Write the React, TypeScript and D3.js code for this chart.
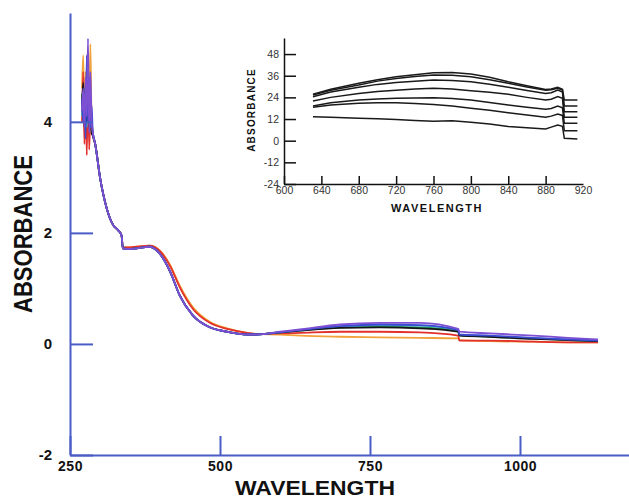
import React, { useEffect, useRef } from "react";
import * as d3 from "d3";

// main spectra: wavelength grid shared by every series
const mainWavelengths = [
  270, 272, 274, 276, 278, 280, 282, 284, 286, 288, 292, 300, 311, 322, 330, 336, 338, 350, 383, 400,
  417, 433, 455, 483, 512, 545, 561, 600, 633, 700, 766, 833, 897, 899, 950, 1022, 1080, 1130,
];

const orangeSeries = [
  4.6, 5.2, 4.0, 4.9, 4.2, 5.0, 4.1, 5.4, 4.0, 3.8, 3.6, 3.0, 2.45, 2.14, 2.05, 1.95, 1.74, 1.74, 1.77, 1.68,
  1.42, 1.05, 0.66, 0.4, 0.28, 0.2, 0.18, 0.17, 0.15, 0.13, 0.12, 0.11, 0.1, 0.07, 0.05, 0.04, 0.03, 0.03,
];
const redSeries = [
  4.0, 4.9, 3.6, 4.5, 3.4, 4.8, 3.5, 4.2, 3.9, 3.75, 3.6, 3.0, 2.45, 2.14, 2.05, 1.95, 1.74, 1.74, 1.77, 1.67,
  1.4, 1.02, 0.63, 0.38, 0.27, 0.2, 0.18, 0.19, 0.2, 0.22, 0.22, 0.21, 0.15, 0.06, 0.06, 0.04, 0.03, 0.03,
];
const greenSeries = [
  4.5, 4.1, 4.6, 3.9, 4.4, 4.0, 4.8, 3.9, 4.0, 3.8, 3.6, 3.0, 2.45, 2.14, 2.05, 1.95, 1.72, 1.71, 1.75, 1.62,
  1.3, 0.87, 0.51, 0.3, 0.22, 0.17, 0.17, 0.21, 0.24, 0.3, 0.31, 0.3, 0.24, 0.16, 0.13, 0.1, 0.07, 0.05,
];
const cyanSeries = [
  4.1, 4.5, 4.0, 4.4, 3.9, 4.7, 4.1, 4.2, 3.9, 3.8, 3.6, 3.0, 2.45, 2.14, 2.05, 1.95, 1.72, 1.71, 1.75, 1.62,
  1.3, 0.87, 0.51, 0.3, 0.22, 0.17, 0.17, 0.21, 0.25, 0.31, 0.34, 0.33, 0.25, 0.16, 0.14, 0.1, 0.08, 0.06,
];
const blackSeries = [
  4.3, 4.7, 3.9, 4.6, 4.0, 4.9, 3.9, 4.4, 3.8, 3.75, 3.6, 3.0, 2.45, 2.14, 2.05, 1.95, 1.72, 1.71, 1.75, 1.62,
  1.3, 0.87, 0.51, 0.3, 0.22, 0.17, 0.17, 0.21, 0.24, 0.29, 0.3, 0.28, 0.22, 0.15, 0.13, 0.09, 0.07, 0.05,
];
const blueSeries = [
  4.4, 4.0, 4.5, 3.7, 5.2, 4.0, 4.6, 3.9, 4.3, 3.8, 3.6, 3.0, 2.45, 2.14, 2.05, 1.95, 1.72, 1.71, 1.75, 1.62,
  1.3, 0.87, 0.51, 0.3, 0.22, 0.17, 0.17, 0.21, 0.25, 0.32, 0.35, 0.34, 0.25, 0.17, 0.15, 0.11, 0.08, 0.06,
];
const purpleSeries = [
  4.2, 4.6, 3.9, 4.8, 4.1, 5.5, 3.8, 4.9, 4.0, 3.8, 3.6, 3.0, 2.45, 2.14, 2.05, 1.95, 1.72, 1.71, 1.75, 1.62,
  1.3, 0.87, 0.51, 0.3, 0.22, 0.17, 0.17, 0.22, 0.26, 0.35, 0.38, 0.38, 0.27, 0.22, 0.19, 0.15, 0.11, 0.08,
];

const mainSeries = [
  { color: "#f2a23a", values: orangeSeries },
  { color: "#e2302c", values: redSeries },
  { color: "#23995a", values: greenSeries },
  { color: "#3fb3c8", values: cyanSeries },
  { color: "#151515", values: blackSeries },
  { color: "#3b4bd0", values: blueSeries },
  { color: "#7d4fd3", values: purpleSeries },
];

const mainXTicks = [250, 500, 750, 1000];
const mainYTicks = [-2, 0, 2, 4];

// inset: near-IR detail
const insetWavelengths = [631, 650, 680, 700, 720, 740, 760, 780, 800, 820, 840, 860, 880, 886, 893, 898, 900, 914];
const insetSeries = [
  [25.8, 28.5, 31.8, 33.8, 35.4, 36.6, 37.6, 37.8, 37, 35.2, 32.7, 30.5, 28.4, 28.6, 29.6, 28.5, 22.5, 22.5],
  [25.3, 28, 30.8, 33, 34.5, 35.6, 36.4, 36.2, 35.4, 33.8, 31.8, 29.8, 28, 28.2, 29, 28, 19.2, 19.2],
  [24.4, 27, 29.6, 31.2, 32.3, 33, 33.6, 33.4, 32.7, 31.3, 29.6, 27.8, 26.2, 26.6, 28, 27, 16, 16],
  [22, 24, 26.2, 27.3, 28, 28.6, 29, 28.6, 27.7, 26.8, 25.7, 24, 22.5, 23, 24.4, 23.5, 13, 13],
  [19.2, 21, 22.5, 23.1, 23.5, 23.7, 23.8, 23.4, 22.5, 21.2, 19.8, 18.5, 17.4, 17.8, 19.2, 18.2, 9.6, 9.6],
  [18.5, 19.8, 20.7, 21, 21, 20.6, 20, 19.2, 18, 16.8, 15.5, 14.2, 13, 13.6, 14.8, 14, 5.5, 5.5],
  [13.3, 13, 12.5, 12.2, 11.8, 11.2, 10.8, 11, 10.2, 9.2, 7.8, 7.2, 6.5, 7.5, 8.7, 8, 1.3, 1.0],
];
const insetXTicks = [600, 640, 680, 720, 760, 800, 840, 880, 920];
const insetYTicks = [-24, -12, 0, 12, 24, 36, 48];

const width = 629;
const height = 500;
const axisBlue = "#4a5cc6";
const font = "Arial, 'Liberation Sans', sans-serif";
const plain = (d: number) => String(d);

const App = () => {
  const svgRef = useRef<SVGSVGElement>(null);

  useEffect(() => {
    const svgEl = d3.select(svgRef.current);
    svgEl.selectAll("*").remove();

    // ---- main chart ----
    const x = d3.scaleLinear().domain([250, 1181.7]).range([70, 629]);
    const y = d3.scaleLinear().domain([-2, 5.96]).range([455, 13]);

    const line = d3
      .line<number>()
      .x((_, i) => x(mainWavelengths[i]))
      .y((d) => y(d))
      .curve(d3.curveMonotoneX);

    svgEl
      .append("g")
      .attr("class", "spectra")
      .selectAll("path")
      .data(mainSeries)
      .join("path")
      .attr("d", (d) => line(d.values))
      .attr("fill", "none")
      .attr("stroke", (d) => d.color)
      .attr("stroke-width", 1.8)
      .attr("stroke-linejoin", "round");

    const xAxis = svgEl
      .append("g")
      .attr("transform", `translate(0,${y(-2)})`)
      .call(
        d3.axisBottom(x).tickValues(mainXTicks).tickFormat(plain).tickSizeInner(-19).tickSizeOuter(0).tickPadding(6)
      );
    xAxis.select(".domain").attr("stroke", axisBlue).attr("stroke-width", 2);
    xAxis.selectAll(".tick line").attr("stroke", axisBlue).attr("stroke-width", 2);
    xAxis
      .selectAll(".tick text")
      .attr("font-family", font)
      .attr("font-weight", "bold")
      .attr("font-size", 14)
      .attr("letter-spacing", 0.5)
      .attr("fill", "#111");

    const yAxis = svgEl
      .append("g")
      .attr("transform", `translate(${x(250)},0)`)
      .call(
        d3.axisLeft(y).tickValues(mainYTicks).tickFormat(plain).tickSizeInner(-23).tickSizeOuter(0).tickPadding(18)
      );
    yAxis.select(".domain").attr("stroke", axisBlue).attr("stroke-width", 2);
    yAxis.selectAll(".tick line").attr("stroke", axisBlue).attr("stroke-width", 2);
    yAxis
      .selectAll(".tick text")
      .attr("font-family", font)
      .attr("font-weight", "bold")
      .attr("font-size", 15)
      .attr("fill", "#111");

    svgEl
      .append("text")
      .attr("x", 315)
      .attr("y", 495)
      .attr("text-anchor", "middle")
      .attr("font-family", font)
      .attr("font-weight", "bold")
      .attr("font-size", 20)
      .attr("textLength", 160)
      .attr("lengthAdjust", "spacingAndGlyphs")
      .attr("fill", "#111")
      .text("WAVELENGTH");

    svgEl
      .append("text")
      .attr("transform", "translate(32,234) rotate(-90)")
      .attr("text-anchor", "middle")
      .attr("font-family", font)
      .attr("font-weight", "bold")
      .attr("font-size", 25)
      .attr("textLength", 158)
      .attr("lengthAdjust", "spacingAndGlyphs")
      .attr("fill", "#111")
      .text("ABSORBANCE");

    // ---- inset ----
    const ix = d3.scaleLinear().domain([600, 920]).range([284, 583]);
    const iy = d3.scaleLinear().domain([-24, 56.9]).range([184, 38]);

    const insetLine = d3
      .line<number>()
      .x((_, i) => ix(insetWavelengths[i]))
      .y((d) => iy(d));

    svgEl
      .append("g")
      .attr("class", "inset-lines")
      .selectAll("path")
      .data(insetSeries)
      .join("path")
      .attr("d", (d) => insetLine(d))
      .attr("fill", "none")
      .attr("stroke", "#1a1a1a")
      .attr("stroke-width", 1.5);

    const ixAxis = svgEl
      .append("g")
      .attr("transform", `translate(0,${iy(-24)})`)
      .call(
        d3.axisBottom(ix).tickValues(insetXTicks).tickFormat(plain).tickSizeInner(-8).tickSizeOuter(0).tickPadding(3)
      );
    ixAxis.select(".domain").attr("stroke", "#111").attr("stroke-width", 1.5);
    ixAxis
      .selectAll(".tick line")
      .attr("stroke", "#111")
      .attr("stroke-width", 1.5)
      .attr("opacity", (d) => (d === 920 ? 0 : 1));
    ixAxis
      .selectAll(".tick text")
      .attr("font-family", font)
      .attr("font-size", 10.5)
      .attr("fill", "#333");

    const iyAxis = svgEl
      .append("g")
      .attr("transform", `translate(${ix(600)},0)`)
      .call(
        d3.axisLeft(iy).tickValues(insetYTicks).tickFormat(plain).tickSizeInner(-12).tickSizeOuter(0).tickPadding(5)
      );
    iyAxis.select(".domain").attr("stroke", "#111").attr("stroke-width", 1.5);
    iyAxis.selectAll(".tick line").attr("stroke", "#111").attr("stroke-width", 1.5);
    iyAxis
      .selectAll(".tick text")
      .attr("font-family", font)
      .attr("font-size", 10.5)
      .attr("fill", "#333");

    svgEl
      .append("text")
      .attr("x", 437)
      .attr("y", 212)
      .attr("text-anchor", "middle")
      .attr("font-family", font)
      .attr("font-weight", "bold")
      .attr("font-size", 11)
      .attr("letter-spacing", 1.5)
      .attr("fill", "#111")
      .text("WAVELENGTH");

    svgEl
      .append("text")
      .attr("transform", "translate(255,110) rotate(-90)")
      .attr("text-anchor", "middle")
      .attr("font-family", font)
      .attr("font-weight", "bold")
      .attr("font-size", 10)
      .attr("letter-spacing", 1.2)
      .attr("fill", "#111")
      .text("ABSORBANCE");
  }, []);

  return (
    <svg
      ref={svgRef}
      width={width}
      height={height}
      style={{ position: "absolute", left: 0, top: 0, background: "#fff" }}
    />
  );
};

export default App;
